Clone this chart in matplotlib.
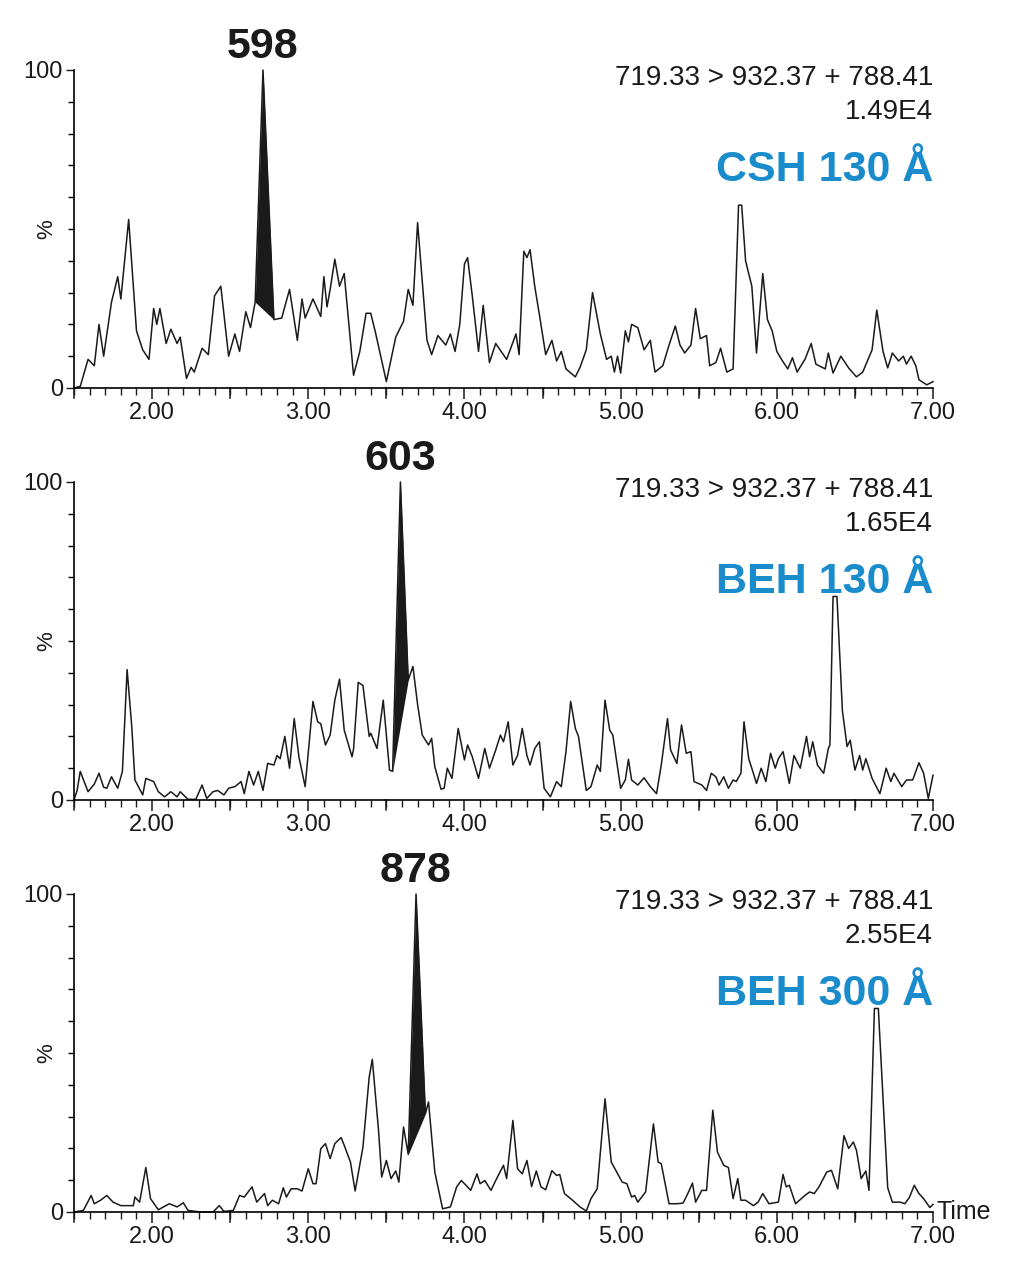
import numpy as np
import matplotlib
matplotlib.use('Agg')
from matplotlib import pyplot as plt
from matplotlib.ticker import MultipleLocator, FixedLocator

plt.rcParams['font.family'] = 'Liberation Sans'

# CSH 130 A trace (time [min], %)
csh_t = [1.50, 1.54, 1.59, 1.63, 1.66, 1.69, 1.74, 1.78, 1.80, 1.85, 1.90, 1.94, 1.98,
         2.01, 2.03, 2.05, 2.09, 2.12, 2.16, 2.18, 2.22, 2.25, 2.27, 2.32, 2.36, 2.40,
         2.44, 2.49, 2.53, 2.56, 2.60, 2.63, 2.66, 2.71, 2.78, 2.83, 2.88, 2.93, 2.96,
         2.98, 3.03, 3.08, 3.10, 3.12, 3.14, 3.17, 3.20, 3.23, 3.29, 3.33, 3.37, 3.40,
         3.43, 3.50, 3.56, 3.61, 3.64, 3.67, 3.70, 3.76, 3.79, 3.83, 3.88, 3.91, 3.94,
         3.97, 4.00, 4.02, 4.05, 4.09, 4.12, 4.16, 4.20, 4.27, 4.33, 4.35, 4.38, 4.40,
         4.42, 4.45, 4.48, 4.52, 4.56, 4.59, 4.62, 4.65, 4.71, 4.74, 4.78, 4.82, 4.87,
         4.91, 4.94, 4.96, 4.98, 5.00, 5.03, 5.05, 5.07, 5.11, 5.15, 5.19, 5.22, 5.27,
         5.31, 5.35, 5.38, 5.41, 5.45, 5.48, 5.51, 5.55, 5.57, 5.61, 5.64, 5.68, 5.72,
         5.755, 5.775, 5.80, 5.84, 5.87, 5.91, 5.94, 5.97, 6.00, 6.03, 6.07, 6.10, 6.13,
         6.18, 6.22, 6.25, 6.31, 6.33, 6.36, 6.41, 6.46, 6.51, 6.55, 6.61, 6.64, 6.68,
         6.71, 6.74, 6.78, 6.81, 6.83, 6.86, 6.89, 6.91, 6.96, 7.00]
csh_y = [0, 0.5, 9, 7, 20, 10, 27, 35, 28, 53, 18, 12, 9,
         25, 20, 25, 14, 18.5, 14, 16, 3, 6.5, 5, 12.5, 10.5, 29,
         32, 10, 17, 11.5, 24, 19, 27, 100, 21.5, 22, 31, 15, 28,
         22, 28, 22.5, 35, 25.5, 31, 40.5, 32, 36, 4, 11.5, 23.5, 23.5,
         17.5, 2, 16, 21, 31, 26, 52, 15, 10.5, 16.5, 13.5, 17, 11.5,
         20, 39, 41, 29, 11.5, 26, 8, 14, 9, 17, 10.5, 43, 41,
         43.5, 32, 23, 10.5, 15, 8.5, 11.5, 6, 3.5, 6.5, 12, 30, 17,
         9, 10, 5, 10, 4.7, 18, 14.5, 20, 19, 12, 15, 5, 7,
         13.5, 19.5, 13.5, 11, 13.5, 25, 15.5, 16.5, 7, 8, 12.5, 5, 6,
         57.5, 57.5, 40, 32, 11, 36, 21.5, 18, 11.5, 9, 6, 9.5, 5,
         9, 14, 7.5, 6, 11, 4.7, 10, 6.3, 3.5, 5, 12, 24.5, 11.5,
         6.3, 11, 8.5, 10, 7.5, 10, 7, 2.6, 1, 2]

# BEH 130 A trace
beh130_t = [1.50, 1.52, 1.54, 1.59, 1.63, 1.66, 1.69, 1.71, 1.74, 1.78, 1.81, 1.84, 1.87,
            1.89, 1.94, 1.96, 2.01, 2.04, 2.08, 2.12, 2.16, 2.18, 2.23, 2.28, 2.32, 2.35,
            2.39, 2.42, 2.46, 2.49, 2.53, 2.57, 2.59, 2.62, 2.65, 2.68, 2.71, 2.74, 2.78,
            2.80, 2.82, 2.85, 2.88, 2.91, 2.94, 2.98, 3.03, 3.06, 3.08, 3.11, 3.14, 3.17,
            3.20, 3.23, 3.28, 3.29, 3.32, 3.35, 3.39, 3.40, 3.44, 3.48, 3.52, 3.54, 3.59,
            3.64, 3.67, 3.70, 3.73, 3.77, 3.79, 3.81, 3.85, 3.87, 3.89, 3.92, 3.96, 4.00,
            4.02, 4.05, 4.09, 4.13, 4.16, 4.20, 4.23, 4.25, 4.28, 4.31, 4.34, 4.37, 4.40,
            4.42, 4.45, 4.48, 4.51, 4.55, 4.59, 4.62, 4.65, 4.68, 4.71, 4.73, 4.78, 4.81,
            4.85, 4.87, 4.90, 4.93, 4.95, 5.00, 5.03, 5.05, 5.07, 5.11, 5.15, 5.19, 5.23,
            5.26, 5.30, 5.32, 5.36, 5.39, 5.42, 5.45, 5.47, 5.52, 5.55, 5.58, 5.61, 5.63,
            5.66, 5.69, 5.72, 5.74, 5.77, 5.79, 5.82, 5.85, 5.87, 5.90, 5.93, 5.96, 5.99,
            6.01, 6.04, 6.08, 6.11, 6.15, 6.19, 6.21, 6.23, 6.26, 6.30, 6.33, 6.34, 6.36,
            6.385, 6.42, 6.45, 6.47, 6.50, 6.53, 6.55, 6.57, 6.61, 6.66, 6.70, 6.73, 6.75,
            6.80, 6.83, 6.87, 6.91, 6.94, 6.97, 7.00]
beh130_y = [0, 3, 9, 2.6, 5, 8.4, 4, 3.7, 7.3, 3.7, 9, 41, 23,
            6.3, 1.6, 6.8, 5.8, 2.6, 1, 2.6, 1, 2.6, 0.2, 0.2, 4.7, 0.5,
            2.6, 3, 1.6, 3.7, 4.2, 5.8, 2, 9, 4.7, 9, 3, 11.5, 11,
            14, 13, 20, 10, 25.6, 13.6, 4.2, 31, 24.6, 24, 17.3, 20.4, 31.4,
            38, 22, 13.6, 16, 37, 36, 20, 21, 16.2, 31.4, 9.4, 9, 100,
            37.7, 42, 30, 20.4, 17.3, 19.4, 10.5, 3.4, 3.7, 10, 6.8, 22.5, 12.6,
            17.3, 13.6, 6.8, 16.2, 10, 15.7, 20.4, 18.3, 24.6, 11, 14, 22.5, 14,
            11, 16.2, 18.3, 3.7, 1, 5.8, 4.2, 15.2, 31, 22.5, 20, 3, 4.2,
            11, 9, 31.4, 22, 20.4, 3.7, 6.3, 12.8, 6.3, 4.7, 7, 4.2, 2,
            11, 25.6, 15.7, 11.5, 23.6, 14.7, 15.2, 5.8, 4.7, 3, 8.4, 7.3, 4.7,
            7.3, 3.7, 6.3, 5.8, 8.4, 24.6, 13, 8.4, 5.2, 10, 5.8, 14.7, 10,
            13, 15.2, 5.2, 14, 10, 20, 13.6, 18.3, 11, 8.4, 16.2, 17.3, 64,
            64, 28, 16.8, 18.8, 9.4, 14, 9.4, 13, 6.8, 2, 10, 5.8, 8.4,
            4.2, 6.3, 6.3, 11.7, 8.4, 0.5, 7.8]

# BEH 300 A trace
beh300_t = [1.50, 1.56, 1.61, 1.63, 1.67, 1.71, 1.75, 1.80, 1.85, 1.88, 1.89, 1.92, 1.96,
            1.99, 2.04, 2.11, 2.16, 2.20, 2.23, 2.31, 2.39, 2.43, 2.46, 2.52, 2.56, 2.59,
            2.64, 2.67, 2.72, 2.74, 2.77, 2.81, 2.84, 2.86, 2.89, 2.93, 2.96, 3.00, 3.03,
            3.05, 3.08, 3.11, 3.14, 3.17, 3.21, 3.23, 3.27, 3.30, 3.35, 3.39, 3.41, 3.45,
            3.47, 3.50, 3.53, 3.56, 3.58, 3.61, 3.64, 3.69, 3.75, 3.77, 3.81, 3.86, 3.91,
            3.95, 3.98, 4.01, 4.04, 4.08, 4.10, 4.13, 4.17, 4.20, 4.25, 4.27, 4.31, 4.34,
            4.37, 4.40, 4.43, 4.46, 4.49, 4.52, 4.56, 4.59, 4.61, 4.64, 4.68, 4.74, 4.78,
            4.81, 4.85, 4.90, 4.94, 4.97, 5.01, 5.04, 5.07, 5.09, 5.11, 5.16, 5.21, 5.24,
            5.26, 5.31, 5.36, 5.40, 5.43, 5.46, 5.48, 5.52, 5.55, 5.59, 5.62, 5.66, 5.69,
            5.72, 5.75, 5.77, 5.80, 5.85, 5.88, 5.91, 5.95, 6.01, 6.04, 6.06, 6.08, 6.12,
            6.18, 6.21, 6.24, 6.27, 6.32, 6.35, 6.39, 6.43, 6.46, 6.49, 6.51, 6.54, 6.57,
            6.59, 6.625, 6.65, 6.71, 6.74, 6.79, 6.82, 6.85, 6.88, 6.91, 6.94, 6.98, 7.00]
beh300_y = [0, 0.5, 5.2, 2.6, 3.7, 5.2, 3.1, 2, 2, 2, 4.7, 3.1, 14,
            4.2, 0.7, 2.6, 1.6, 2.9, 0.5, 0, 0, 2, 0.2, 0.5, 5.2, 4.7,
            7.9, 3.1, 5.8, 2, 3.7, 2.6, 7.6, 4.7, 7.3, 7.3, 6.6, 13.6, 8.9,
            8.9, 19.9, 21.5, 16.8, 21.5, 23.4, 21, 15.7, 6.6, 20.4, 42.4, 48, 25.6,
            11, 16.2, 10.5, 12.9, 9.4, 26.7, 18.1, 100, 30.9, 34.6, 12.6, 1, 1.6,
            7.9, 9.9, 8.4, 6.8, 12, 8.9, 9.9, 6.8, 9.9, 14.7, 10.5, 28.8, 13.6,
            12, 16.2, 8, 12.9, 7.9, 7, 13, 11.5, 11.8, 5.8, 4.2, 1.6, 0.3,
            4.2, 7.3, 35.6, 15.7, 13, 9.4, 8.9, 4.7, 5.2, 3.1, 6.3, 27.7, 15.7,
            15.2, 2.6, 2.6, 2.8, 5.8, 9.1, 3.1, 6.8, 6.8, 32, 18.8, 14.7, 14,
            4.2, 10.5, 3.7, 3.7, 2, 3.1, 5.8, 2.6, 3.1, 11.8, 7.9, 8.4, 2.6,
            5.2, 6.3, 5.8, 7.9, 12.6, 13.1, 7.3, 24, 20, 22, 19.4, 10.5, 12.9,
            6.8, 64, 64, 7.6, 3.1, 3.1, 2.6, 4.7, 8.4, 5.8, 4.2, 1.4, 2.4]

columns = ['CSH 130 Å', 'BEH 130 Å', 'BEH 300 Å']
traces = [(csh_t, csh_y), (beh130_t, beh130_y), (beh300_t, beh300_y)]
peak_labels = ['598', '603', '878']
peak_windows = [(2.66, 2.78), (3.54, 3.64), (3.64, 3.75)]
intensities = ['1.49E4', '1.65E4', '2.55E4']
transition = '719.33 > 932.37 + 788.41'

BLUE = '#1a8ccc'
INK = '#1a1a1a'

fig = plt.figure(figsize=(10.18, 12.8), dpi=100)
bottoms = [1 - 388 / 1280, 1 - 800 / 1280, 1 - 1212 / 1280]

for i, (name, (t, y)) in enumerate(zip(columns, traces)):
    ax = fig.add_axes([74 / 1018, bottoms[i], 859 / 1018, 318 / 1280])
    t = np.asarray(t)
    y = np.asarray(y)
    ax.plot(t, y, color=INK, lw=1.1, clip_on=False)

    # integrated peak, filled above the straight baseline
    t0, t1 = peak_windows[i]
    m = (t >= t0) & (t <= t1)
    base = np.interp(t[m], [t0, t1], [np.interp(t0, t, y), np.interp(t1, t, y)])
    ax.fill_between(t[m], y[m], base, color=INK, lw=0)
    peak_t = t[m][np.argmax(y[m])]
    ax.text(peak_t, 101, peak_labels[i], ha='center', va='bottom',
            fontsize=31, fontweight='bold', color=INK)

    ax.set_xlim(1.5, 7.0)
    ax.set_ylim(0, 100)
    for s in ('top', 'right'):
        ax.spines[s].set_visible(False)
    for s in ('left', 'bottom'):
        ax.spines[s].set_linewidth(1.2)

    ax.xaxis.set_major_locator(FixedLocator([2, 3, 4, 5, 6, 7]))
    ax.xaxis.set_major_formatter(matplotlib.ticker.FormatStrFormatter('%.2f'))
    ax.xaxis.set_minor_locator(MultipleLocator(0.1))
    ax.tick_params(axis='x', which='major', length=8, width=1.1, labelsize=17,
                   pad=2, colors=INK)
    ax.tick_params(axis='x', which='minor', length=5, width=1.0, colors=INK)
    ax.yaxis.set_major_locator(FixedLocator([0, 100]))
    ax.yaxis.set_minor_locator(MultipleLocator(10))
    ax.tick_params(axis='y', which='major', length=6, width=1.0, labelsize=17,
                   pad=2, colors=INK)
    ax.tick_params(axis='y', which='minor', length=4, width=1.0)
    # longer ticks at the half minutes
    for x in np.arange(1.5, 7.0, 1.0):
        ax.plot([x, x], [0, -3.0], color=INK, lw=1.1, clip_on=False)
    ax.text(1.5 - 0.11, 50, '%', rotation=90, ha='right', va='center',
            fontsize=16, color=INK)

    ax.text(7.0, 97.5, transition, ha='right', va='center', fontsize=20,
            color=INK)
    ax.text(7.0, 86.8, intensities[i], ha='right', va='center', fontsize=20,
            color=INK)
    ax.text(7.0, 68.5, name, ha='right', va='center', fontsize=31,
            fontweight='bold', color=BLUE)

    if i == 2:
        ax.text(7.02, 0, 'Time', ha='left', va='center', fontsize=18,
                color=INK)

fig.savefig('out.png', dpi=100)
